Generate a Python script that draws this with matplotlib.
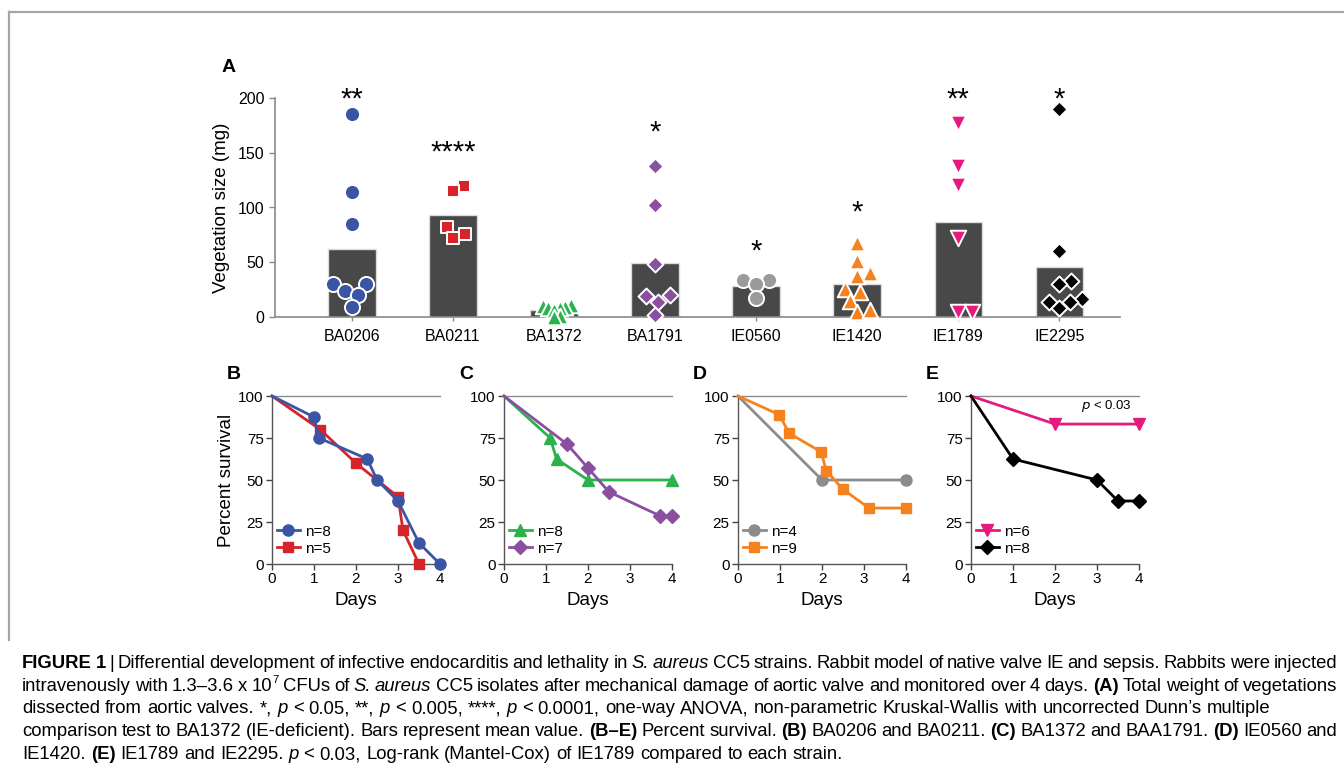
import numpy as np
import matplotlib
matplotlib.use("Agg")
import matplotlib.pyplot as plt
from matplotlib import font_manager
from matplotlib.font_manager import FontProperties
from matplotlib.transforms import IdentityTransform

# ---------------- data ----------------
strains = ["BA0206", "BA0211", "BA1372", "BA1791", "IE0560", "IE1420", "IE1789", "IE2295"]
veg_BA0206 = [185, 114, 85, 30, 30, 24, 20, 9]
veg_BA0211 = [120, 115, 82, 76, 72]
veg_BA1372 = [11, 10, 9, 8, 8, 6, 1, 0]
veg_BA1791 = [138, 102, 48, 20, 19, 14, 2]
veg_IE0560 = [34, 34, 30, 17]
veg_IE1420 = [68, 51, 40, 37, 26, 23, 15, 5, 6]
veg_IE1789 = [177, 138, 121, 72, 5, 5]
veg_IE2295 = [190, 60, 33, 30, 16, 14, 14, 8]
sig_labels = ["**", "****", "", "*", "*", "*", "**", "*"]
sig_y = [205, 156, 0, 174, 66, 101, 205, 205]

B_n8_days = [0, 1, 1.12, 2.27, 2.5, 3, 3.5, 4]
B_n8_pct = [100, 87.5, 75, 62.5, 50, 37.5, 12.5, 0]
B_n5_days = [0, 1.15, 2, 3, 3.12, 3.5]
B_n5_pct = [100, 80, 60, 40, 20, 0]
C_n8_days = [0, 1.1, 1.25, 2, 4]
C_n8_pct = [100, 75, 62.5, 50, 50]
C_n7_days = [0, 1.5, 2, 2.5, 3.72, 4]
C_n7_pct = [100, 71.4, 57.1, 42.9, 28.6, 28.6]
D_n4_days = [0, 2, 4]
D_n4_pct = [100, 50, 50]
D_n9_days = [0, 0.98, 1.22, 1.98, 2.1, 2.5, 3.12, 4]
D_n9_pct = [100, 88.9, 77.8, 66.7, 55.6, 44.4, 33.3, 33.3]
E_n6_days = [0, 2, 4]
E_n6_pct = [100, 83.3, 83.3]
E_n8_days = [0, 1, 3, 3.5, 4]
E_n8_pct = [100, 62.5, 50, 37.5, 37.5]

# ---------------- styles ----------------
W, H = 1344, 777
plt.rcParams['font.family'] = ['Liberation Sans', 'DejaVu Sans']
fig = plt.figure(figsize=(W / 100, H / 100), dpi=100)

BLUE, RED, GREEN, PURPLE = '#3b55a4', '#d7232a', '#2bb24c', '#8b4f9f'
GRAY, ORANGE, PINK, BLACK = '#9b9b9b', '#f5821f', '#e6197d', '#000000'
AXC = '#8a8a8a'


def px_axes(l, t, r, b):
    return fig.add_axes([l / W, 1 - b / H, (r - l) / W, (b - t) / H])


# figure frame
fig.add_artist(plt.Line2D([9 / W, 1], [1 - 12 / H, 1 - 12 / H], color='#a6a6a6', lw=1.6,
                          transform=fig.transFigure))
fig.add_artist(plt.Line2D([9 / W, 9 / W], [1 - 12 / H, 1 - 640 / H], color='#a6a6a6', lw=1.6,
                          transform=fig.transFigure))

# ---------------- panel A ----------------
axL, axT, axR, axB = 275, 98, 1120, 317
axA = px_axes(axL, axT, axR, axB)
xlo, xhi = -0.76, 7.6
axA.set_xlim(xlo, xhi)
axA.set_ylim(0, 200)
px_x = (axR - axL) / (xhi - xlo)
px_y = (axB - axT) / 200.0


def swarm(vals, diam):
    vals = np.asarray(vals, float)
    order = np.argsort(vals, kind='stable')
    placed = []
    offs = np.zeros(len(vals))
    for idx in order:
        y = vals[idx] * px_y
        cands = [0.0]
        for xp, yp in placed:
            dy = abs(y - yp)
            if dy < diam:
                dx = np.sqrt(diam ** 2 - dy ** 2)
                cands += [xp + dx, xp - dx]
        cands = sorted(cands, key=lambda c: (round(abs(c), 6), -c))
        chosen = cands[-1]
        for c in cands:
            if all((c - xp) ** 2 + (y - yp) ** 2 >= diam ** 2 - 1e-6 for xp, yp in placed):
                chosen = c
                break
        placed.append((chosen, y))
        offs[idx] = chosen / px_x
    return offs


groups = [veg_BA0206, veg_BA0211, veg_BA1372, veg_BA1791, veg_IE0560, veg_IE1420, veg_IE1789, veg_IE2295]
gstyle = [('o', BLUE, 118, 13.5), ('s', RED, 82, 12.5), ('^', GREEN, 125, 6.0), ('D', PURPLE, 66, 13.5),
          ('o', GRAY, 118, 13.5), ('^', ORANGE, 125, 13.0), ('v', PINK, 125, 14.0), ('D', BLACK, 66, 12.5)]
xs = np.arange(len(strains))
means = [np.mean(g) for g in groups]
axA.bar(xs, means, width=0.47, color='#484848', edgecolor='#dcdcdc', linewidth=1.0, zorder=2)
for i, (g, (m, c, s, dia)) in enumerate(zip(groups, gstyle)):
    offs = swarm(g, dia)
    axA.scatter(xs[i] + offs, g, marker=m, s=s, c=c, edgecolors='white', linewidths=1.4,
                zorder=3, clip_on=False)
    if sig_labels[i]:
        fs = 21
        axA.annotate(sig_labels[i], (xs[i], sig_y[i]), xytext=(0, -0.5 * fs), textcoords='offset points',
                     ha='center', va='baseline', fontsize=fs, annotation_clip=False)

axA.set_xticks(xs)
axA.set_xticklabels(strains, fontsize=11.5)
axA.set_yticks([0, 50, 100, 150, 200])
axA.tick_params(axis='y', labelsize=11.5, length=4, color=AXC, width=1)
axA.tick_params(axis='x', length=3, color=AXC, width=1, pad=6)
axA.set_ylabel("Vegetation size (mg)", fontsize=13.5, labelpad=6)
for sp in ['top', 'right']:
    axA.spines[sp].set_visible(False)
for sp in ['left', 'bottom']:
    axA.spines[sp].set_color(AXC)
    axA.spines[sp].set_linewidth(1.2)

fig.text(222 / W, 1 - 68 / H, "A", fontsize=14, fontweight='bold', ha='left', va='center')

# ---------------- panels B-E ----------------
panels = [
    ("B", 272, [(B_n5_days, B_n5_pct, RED, 's', 7.5, "n=5"), (B_n8_days, B_n8_pct, BLUE, 'o', 8.0, "n=8")], [1, 0]),
    ("C", 504, [(C_n8_days, C_n8_pct, GREEN, '^', 9.0, "n=8"), (C_n7_days, C_n7_pct, PURPLE, 'D', 6.8, "n=7")], [0, 1]),
    ("D", 738, [(D_n4_days, D_n4_pct, '#8c8c8c', 'o', 8.0, "n=4"), (D_n9_days, D_n9_pct, ORANGE, 's', 7.5, "n=9")], [0, 1]),
    ("E", 971, [(E_n6_days, E_n6_pct, PINK, 'v', 9.0, "n=6"), (E_n8_days, E_n8_pct, BLACK, 'D', 6.8, "n=8")], [0, 1]),
]
for letter, left, series, legorder in panels:
    ax = px_axes(left, 396, left + 168, 564)
    ax.set_xlim(0, 4)
    ax.set_ylim(0, 100)
    ax.plot([0, 4], [100, 100], color='#8c8c8c', lw=1.0, zorder=1, clip_on=False)
    handles = []
    for d, p, c, m, ms, lab in series:
        h, = ax.plot(d, p, color=c, lw=2.0, marker=m, ms=ms, markevery=list(range(1, len(d))),
                     clip_on=False, zorder=3, label=lab)
        handles.append(h)
    hs = [handles[k] for k in legorder]
    ax.legend(hs, [h.get_label() for h in hs], loc='lower left', bbox_to_anchor=(0.02, 0.04),
              frameon=False, fontsize=11, handlelength=1.5, handletextpad=0.35,
              labelspacing=0.2, borderaxespad=0.0, borderpad=0.1)
    ax.set_xticks([0, 1, 2, 3, 4])
    ax.set_yticks([0, 25, 50, 75, 100])
    ax.tick_params(labelsize=11, length=4, width=1, color='#444444', pad=2)
    ax.set_xlabel("Days", fontsize=13.5, labelpad=4)
    if letter == "B":
        ax.set_ylabel("Percent survival", fontsize=13.5, labelpad=2)
    for sp in ['top', 'right']:
        ax.spines[sp].set_visible(False)
    for sp in ['left', 'bottom']:
        ax.spines[sp].set_color('#555555')
        ax.spines[sp].set_linewidth(1.0)
    fig.text((left - 45) / W, 1 - 375 / H, letter, fontsize=14, fontweight='bold',
             ha='left', va='center')
    if letter == "E":
        ax.text(3.82, 89, "$\\it{p}$ < 0.03", fontsize=9.5, ha='right', va='bottom')

# ---------------- caption ----------------
names = {f.name for f in font_manager.fontManager.ttflist}
cap_family = 'Liberation Sans Narrow' if 'Liberation Sans Narrow' in names else 'Liberation Sans'

cap_lines = [
    ([("FIGURE 1", 'b'), (" | Differential development of infective endocarditis and lethality in ", 'n'),
      ("S. aureus", 'i'), (" CC5 strains. Rabbit model of native valve IE and sepsis. Rabbits were injected", 'n')], True),
    ([("intravenously with 1.3–3.6 x 10", 'n'), ("7", 'sup'), (" CFUs of ", 'n'), ("S. aureus", 'i'),
      (" CC5 isolates after mechanical damage of aortic valve and monitored over 4 days. ", 'n'), ("(A)", 'b'),
      (" Total weight of vegetations", 'n')], True),
    ([("dissected from aortic valves. *, ", 'n'), ("p", 'i'), (" < 0.05, **, ", 'n'), ("p", 'i'),
      (" < 0.005, ****, ", 'n'), ("p", 'i'),
      (" < 0.0001, one-way ANOVA, non-parametric Kruskal-Wallis with uncorrected Dunn’s multiple", 'n')], False),
    ([("comparison test to BA1372 (IE-deficient). Bars represent mean value. ", 'n'), ("(B–E)", 'b'),
      (" Percent survival. ", 'n'), ("(B)", 'b'), (" BA0206 and BA0211. ", 'n'), ("(C)", 'b'),
      (" BA1372 and BAA1791. ", 'n'), ("(D)", 'b'), (" IE0560 and", 'n')], True),
    ([("IE1420. ", 'n'), ("(E)", 'b'), (" IE1789 and IE2295. ", 'n'), ("p", 'i'),
      (" < 0.03, Log-rank (Mantel-Cox) of IE1789 compared to each strain.", 'n')], False),
]

renderer = fig.canvas.get_renderer()


def fp(style, size):
    if style == 'b':
        return FontProperties(family=cap_family, weight='bold', size=size)
    if style == 'i':
        return FontProperties(family=cap_family, style='italic', size=size)
    if style == 'sup':
        return FontProperties(family=cap_family, size=size * 0.62)
    return FontProperties(family=cap_family, size=size)


def measure(s, prop):
    t = fig.text(0, 0, s, fontproperties=prop, transform=IdentityTransform())
    w = t.get_window_extent(renderer).width
    t.remove()
    return w


def words_of(segs):
    out = []
    gap = False
    for text, st in segs:
        parts = text.split(' ')
        for i, p in enumerate(parts):
            if i > 0:
                gap = True
            if p:
                out.append((p, st, gap))
                gap = False
    return out


def line_layout(segs, size):
    ws = words_of(segs)
    sp = measure("x x", fp('n', size)) - measure("xx", fp('n', size))
    widths = [measure(w, fp(st, size)) for w, st, g in ws]
    ngaps = sum(1 for w in ws if w[2])
    return ws, widths, sp, ngaps


# choose size so the last (natural) line matches its length in the figure
size0 = 11.0
ws, widths, sp, ng = line_layout(cap_lines[4][0], size0)
nat = sum(widths) + sp * ng
cap_size = size0 * (845 - 22) / nat

x0, x1 = 22, 1337
baselines = [668, 691, 713, 736, 759]
for (segs, justify), bl in zip(cap_lines, baselines):
    ws, widths, sp, ng = line_layout(segs, cap_size)
    gap = sp
    if justify and ng:
        gap = (x1 - x0 - sum(widths)) / ng
    x = x0
    for (w, st, g), wd in zip(ws, widths):
        if g:
            x += gap
        y = H - bl
        if st == 'sup':
            y += cap_size * 0.42 * 100 / 72
        fig.text(x, y, w, fontproperties=fp(st, cap_size), transform=IdentityTransform(),
                 ha='left', va='baseline')
        x += wd

fig.savefig("out.png", dpi=100)
